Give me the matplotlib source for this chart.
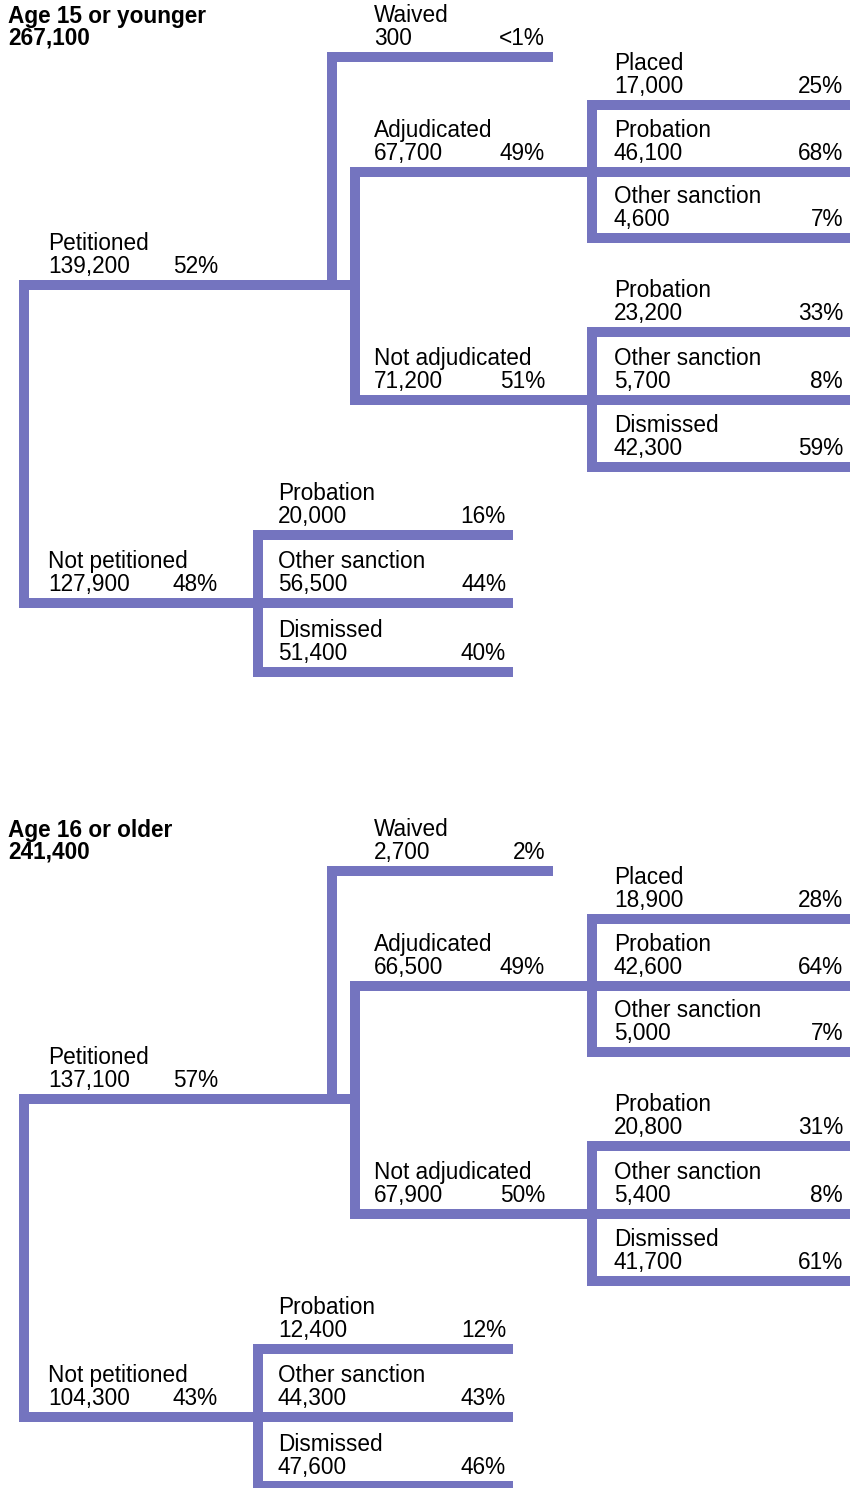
import matplotlib
matplotlib.use("Agg")
import matplotlib.pyplot as plt

plt.rcParams['font.family'] = ['Liberation Sans', 'DejaVu Sans']

# Data: one entry per node, same tree shape for both age groups
groups = ["Age 15 or younger", "Age 16 or older"]
totals = ["267,100", "241,400"]

node_names = ["Petitioned", "Waived", "Adjudicated", "Placed", "Probation",
              "Other sanction", "Not adjudicated", "Probation", "Other sanction",
              "Dismissed", "Not petitioned", "Probation", "Other sanction",
              "Dismissed"]
counts_young = ["139,200", "300", "67,700", "17,000", "46,100", "4,600",
                "71,200", "23,200", "5,700", "42,300", "127,900", "20,000",
                "56,500", "51,400"]
pcts_young = ["52%", "<1%", "49%", "25%", "68%", "7%", "51%", "33%", "8%",
              "59%", "48%", "16%", "44%", "40%"]
counts_old = ["137,100", "2,700", "66,500", "18,900", "42,600", "5,000",
              "67,900", "20,800", "5,400", "41,700", "104,300", "12,400",
              "44,300", "47,600"]
pcts_old = ["57%", "2%", "49%", "28%", "64%", "7%", "50%", "31%", "8%",
            "61%", "43%", "12%", "43%", "46%"]

# Layout (pixels, for the top panel)
COLOR = "#7474BF"
LW = 7.2  # 10 px at dpi 100
FS = 16.3

# line y, line x start, line x end, text x, pct right x
node_layout = [
    (285, 24, 355, 48, 218),     # Petitioned
    (57, 332, 553, 374, 545),    # Waived
    (172, 355, 592, 374, 545),   # Adjudicated
    (105, 592, 850, 614, 843),   # Placed
    (172, 592, 850, 614, 843),   # Probation
    (238, 592, 850, 614, 843),   # Other sanction
    (400, 355, 592, 374, 545),   # Not adjudicated
    (332, 592, 850, 614, 843),   # Probation
    (400, 592, 850, 614, 843),   # Other sanction
    (467, 592, 850, 614, 843),   # Dismissed
    (603, 24, 258, 48, 218),     # Not petitioned
    (535, 258, 513, 278, 506),   # Probation
    (603, 258, 513, 278, 506),   # Other sanction
    (672, 258, 513, 278, 506),   # Dismissed
]
# vertical connectors: x, y top, y bottom
verticals = [(24, 285, 603), (332, 57, 285), (355, 172, 400),
             (592, 105, 238), (592, 332, 467), (258, 535, 672)]

fig = plt.figure(figsize=(8.58, 14.88), dpi=100)
ax = fig.add_axes([0, 0, 1, 1])
ax.set_xlim(0, 858)
ax.set_ylim(1488, 0)
ax.axis("off")


def draw_panel(dy, title, total, counts, pcts):
    for x, y0, y1 in verticals:
        ax.plot([x, x], [y0 + dy, y1 + dy], color=COLOR, lw=LW,
                solid_capstyle='projecting')
    for (y, xs, xe, tx, px), name, c, p in zip(node_layout, node_names, counts, pcts):
        ax.plot([xs, xe], [y + dy, y + dy], color=COLOR, lw=LW,
                solid_capstyle='butt')
        ax.text(tx, y + dy - 35, name, fontsize=FS, va='baseline', ha='left')
        ax.text(tx, y + dy - 12, c, fontsize=FS, va='baseline', ha='left')
        ax.text(px, y + dy - 12, p, fontsize=FS, va='baseline', ha='right')
    ax.text(8, 23 + dy, title, fontsize=FS, fontweight='bold', va='baseline')
    ax.text(8, 45 + dy, total, fontsize=FS, fontweight='bold', va='baseline')


draw_panel(0, groups[0], totals[0], counts_young, pcts_young)
draw_panel(814, groups[1], totals[1], counts_old, pcts_old)

fig.savefig("out.png", dpi=100, facecolor="white")
